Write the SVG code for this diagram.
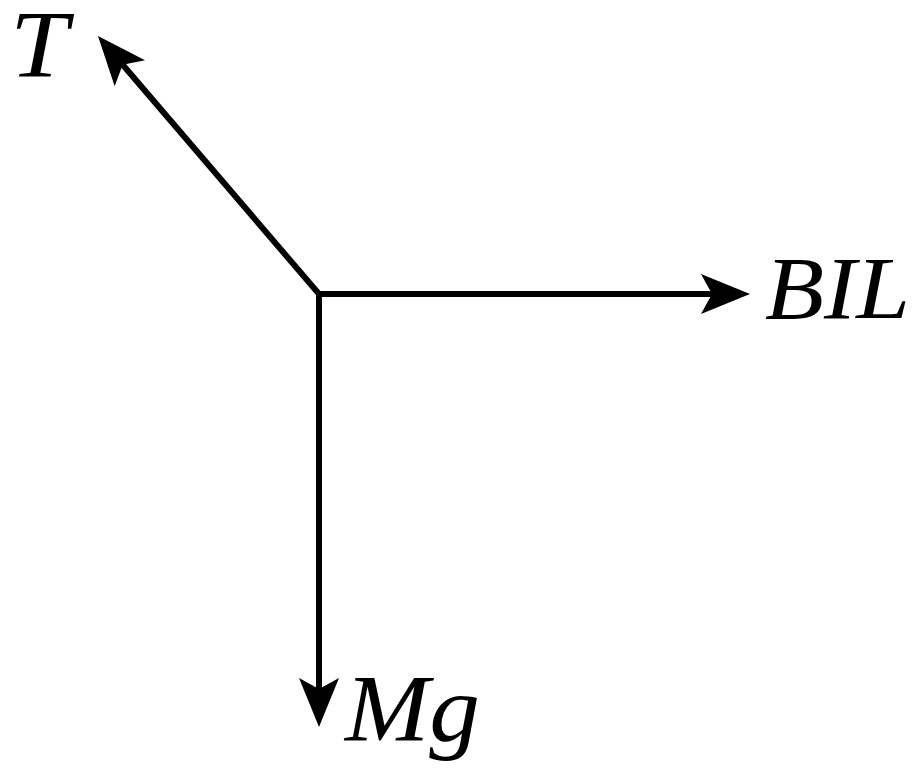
<svg xmlns="http://www.w3.org/2000/svg" width="919" height="772" viewBox="0 0 919 772">
<style>
.ln{fill:none;stroke:#000;stroke-width:6;stroke-linejoin:miter}
.lb{font-family:"Liberation Serif","Times New Roman",serif;font-style:italic;fill:#000}
</style>
<defs>
<marker id="ah" viewBox="-50 -21 51 42" markerWidth="51" markerHeight="42" refX="-38" refY="0" orient="auto-start-reverse" markerUnits="userSpaceOnUse">
<path d="M0,0 L-49,-20 L-38,0 L-49,20 Z" fill="#000"/>
</marker>
</defs>
<rect width="919" height="772" fill="#fff"/>
<g id="connectors">
<path class="ln" d="M122.7,64.8 L319,294 L712,294" marker-start="url(#ah)" marker-end="url(#ah)"/>
<line class="ln" x1="319" y1="291" x2="319" y2="689" marker-end="url(#ah)"/>
</g>
<g id="T"><text class="lb" x="10" y="77" font-size="96" textLength="58" lengthAdjust="spacingAndGlyphs">T</text></g>
<g id="BIL"><text class="lb" x="765" y="318" font-size="88" textLength="145" lengthAdjust="spacingAndGlyphs">BIL</text></g>
<g id="Mg"><text class="lb" x="345" y="741" font-size="96" textLength="135" lengthAdjust="spacingAndGlyphs">Mg</text></g>
</svg>
